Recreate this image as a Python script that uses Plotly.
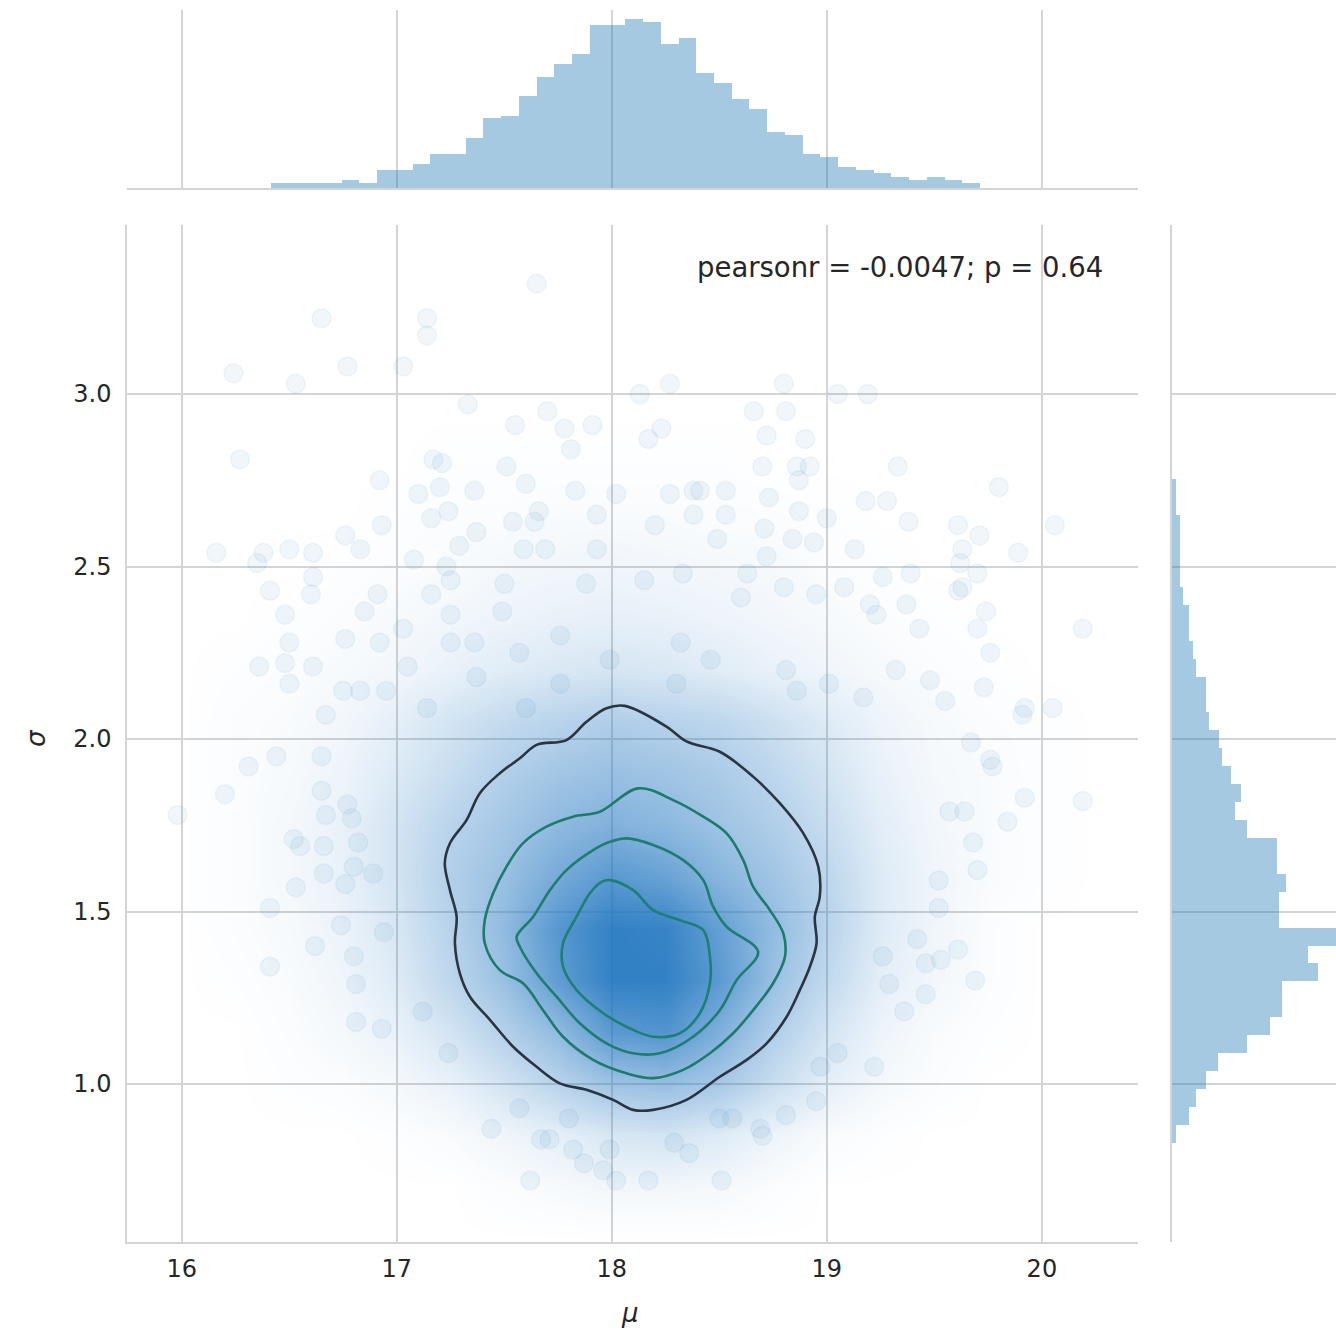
import numpy as np
import plotly.graph_objects as go

# ---------------- data ----------------
# Scatter samples that stand out individually (mu, sigma)
mu_pts = [17.65,16.65,17.14,17.14,16.24,16.53,16.77,17.03,17.33,
          18.27,18.13,18.80,19.05,19.19,18.66,18.23,17.78,17.70,17.55,
          18.92,19.33,17.83,18.02,16.27,16.92,17.17,17.20,18.41,18.53,18.73,
          19.80,20.06,19.61,20.19,19.89,19.38,19.13,18.84,19.00,19.62,19.63,19.74,
          19.92,20.05,20.19,19.73,19.67,19.77,19.64,19.52,19.52,19.69,19.46,19.61,19.53,
          16.16,16.38,16.50,16.41,16.48,16.60,16.36,16.48,16.76,
          16.20,15.98,16.31,16.52,16.65,16.65,16.67,16.79,16.80,16.53,16.62,16.41,16.41,16.81,16.67,16.83,
          17.10,17.25,17.64,17.69,17.03,
          18.51,18.02,18.17,17.96,17.87,17.62,18.29,18.50,17.80,17.67,17.44,18.69,18.81,18.95,18.56,18.97,
          16.44,16.80,16.81,16.93,17.24,17.12,17.71,17.82,17.57,17.99,
          16.66,16.76,16.55,16.66,16.82,16.77,16.89,16.94,16.74,
          19.57,19.84,19.92,19.76,19.70,19.68,19.22,19.36,19.05,18.70,18.36,19.29,19.26,19.42,19.46,
          17.91,17.81,17.21,17.51,17.36,17.60,16.93,17.16,17.24,17.66,17.93,17.54,16.76,16.83,16.61,
          16.35,17.08,17.23,17.59,17.93,17.29,17.37,16.61,16.50,16.50,16.61,16.75,16.92,16.91,16.85,
          17.16,17.25,17.49,17.50,17.88,17.25,17.57,17.05,17.37,16.95,17.14,17.76,17.60,17.99,17.76,17.36,
          18.81,18.17,18.72,18.90,18.70,18.86,18.27,18.38,18.53,18.87,19.18,19.28,19.71,19.63,18.38,
          18.20,18.71,18.87,18.94,18.49,18.72,19.39,19.61,19.70,19.70,19.76,19.08,19.23,19.37,19.43,
          19.32,19.48,19.55,19.91,19.17,19.01,18.81,18.30,18.86,18.46,18.32,18.95,18.80,18.60,18.33,
          18.63,18.15,19.20,19.26]
sigma_pts = [3.32,3.22,3.22,3.17,3.06,3.03,3.08,3.08,2.97,
             3.03,3.00,3.03,3.00,3.00,2.95,2.90,2.90,2.95,2.91,
             2.79,2.79,2.72,2.71,2.81,2.75,2.81,2.73,2.72,2.65,2.70,
             2.73,2.62,2.62,2.32,2.54,2.63,2.55,2.58,2.64,2.51,2.44,2.37,
             2.09,2.09,1.82,2.15,1.99,1.92,1.79,1.51,1.59,1.30,1.26,1.39,1.36,
             2.54,2.54,2.55,2.43,2.36,2.42,2.21,2.22,2.29,
             1.84,1.78,1.92,1.71,1.95,1.85,1.78,1.77,1.63,1.57,1.40,1.34,1.51,1.18,2.07,2.14,
             2.71,2.46,2.63,2.55,2.32,
             0.72,0.72,0.72,0.75,0.77,0.72,0.83,0.90,0.90,0.84,0.87,0.87,0.91,0.95,0.90,1.05,
             1.95,1.37,1.29,1.16,1.09,1.21,0.84,0.81,0.93,0.81,
             1.61,1.58,1.69,1.69,1.70,1.81,1.61,1.44,1.46,
             1.79,1.76,1.83,1.94,1.62,1.70,1.05,1.21,1.09,0.85,0.80,1.29,1.37,1.42,1.35,
             2.91,2.84,2.80,2.79,2.72,2.74,2.62,2.64,2.66,2.66,2.65,2.63,2.59,2.55,2.54,
             2.51,2.52,2.50,2.55,2.55,2.56,2.60,2.47,2.28,2.16,2.21,2.14,2.28,2.42,2.37,
             2.42,2.36,2.37,2.45,2.45,2.28,2.25,2.21,2.18,2.14,2.09,2.16,2.09,2.23,2.30,2.28,
             2.95,2.87,2.88,2.87,2.79,2.79,2.71,2.72,2.72,2.75,2.69,2.69,2.59,2.55,2.65,
             2.62,2.61,2.66,2.57,2.58,2.53,2.48,2.43,2.48,2.32,2.25,2.44,2.36,2.39,2.32,
             2.20,2.17,2.11,2.07,2.12,2.16,2.20,2.16,2.14,2.23,2.28,2.42,2.44,2.41,2.48,
             2.48,2.46,2.39,2.47]

# Apparent density of the overlapping cloud (0 = white, 1 = solid blue)
mu_grid = [16.0, 16.25, 16.5, 16.75, 17.0, 17.25, 17.5, 17.75, 18.0, 18.25, 18.5, 18.75, 19.0, 19.25, 19.5, 19.75, 20.0, 20.25]
sigma_grid = [0.55, 0.70, 0.85, 1.00, 1.15, 1.30, 1.45, 1.60, 1.75, 1.90, 2.05, 2.20, 2.35, 2.50, 2.65, 2.80, 2.95]
cloud_density = [
    [0, 0, 0, 0, 0, 0, 0, 0, 0, 0, 0, 0, 0, 0, 0, 0, 0, 0],
    [0, 0, 0, 0, 0, 0, 0.02, 0.04, 0.06, 0.06, 0.05, 0.02, 0, 0, 0, 0, 0, 0],
    [0, 0, 0, 0, 0.01, 0.03, 0.07, 0.12, 0.18, 0.20, 0.15, 0.08, 0.03, 0.01, 0, 0, 0, 0],
    [0, 0, 0.01, 0.02, 0.05, 0.10, 0.20, 0.32, 0.44, 0.47, 0.40, 0.25, 0.12, 0.05, 0.02, 0, 0, 0],
    [0, 0, 0.02, 0.05, 0.10, 0.20, 0.34, 0.50, 0.74, 0.78, 0.58, 0.36, 0.20, 0.08, 0.03, 0.01, 0, 0],
    [0, 0.01, 0.03, 0.07, 0.15, 0.30, 0.46, 0.72, 0.92, 0.92, 0.74, 0.46, 0.28, 0.12, 0.06, 0.02, 0, 0],
    [0, 0.02, 0.04, 0.09, 0.18, 0.33, 0.50, 0.76, 0.92, 0.90, 0.70, 0.49, 0.32, 0.15, 0.07, 0.02, 0, 0],
    [0, 0.02, 0.05, 0.10, 0.20, 0.35, 0.46, 0.62, 0.75, 0.68, 0.54, 0.43, 0.30, 0.15, 0.07, 0.03, 0.01, 0],
    [0, 0.02, 0.05, 0.10, 0.20, 0.32, 0.41, 0.51, 0.57, 0.52, 0.44, 0.36, 0.25, 0.13, 0.06, 0.03, 0.01, 0],
    [0, 0.02, 0.04, 0.08, 0.16, 0.25, 0.35, 0.42, 0.46, 0.43, 0.38, 0.30, 0.20, 0.10, 0.05, 0.03, 0.01, 0],
    [0, 0.02, 0.03, 0.06, 0.12, 0.20, 0.27, 0.32, 0.36, 0.33, 0.30, 0.23, 0.15, 0.08, 0.04, 0.02, 0.01, 0],
    [0, 0.01, 0.02, 0.04, 0.06, 0.10, 0.14, 0.17, 0.19, 0.17, 0.14, 0.10, 0.07, 0.04, 0.02, 0.01, 0, 0],
    [0, 0, 0.01, 0.02, 0.04, 0.06, 0.08, 0.10, 0.11, 0.10, 0.08, 0.06, 0.04, 0.02, 0.01, 0, 0, 0],
    [0, 0, 0, 0.01, 0.02, 0.03, 0.05, 0.06, 0.07, 0.06, 0.05, 0.04, 0.02, 0.01, 0, 0, 0, 0],
    [0, 0, 0, 0, 0.01, 0.02, 0.02, 0.03, 0.03, 0.03, 0.02, 0.02, 0.01, 0, 0, 0, 0, 0],
    [0, 0, 0, 0, 0, 0.01, 0.01, 0.01, 0.01, 0.01, 0.01, 0, 0, 0, 0, 0, 0, 0],
    [0, 0, 0, 0, 0, 0, 0, 0, 0, 0, 0, 0, 0, 0, 0, 0, 0, 0],
]

# KDE contour rings (mu, sigma)
ring1_mu = [18.060,18.254,18.347,18.502,18.657,18.781,18.890,18.960,18.967,18.944,18.952,18.921,18.874,18.813,
            18.720,18.627,18.502,18.347,18.192,18.099,18.006,17.882,17.758,17.650,17.541,17.433,17.340,17.293,
            17.270,17.278,17.247,17.223,17.247,17.324,17.386,17.479,17.572,17.650,17.789,17.882,17.975]
ring1_sigma = [2.096,2.036,1.993,1.963,1.891,1.814,1.727,1.630,1.543,1.485,1.408,1.340,1.272,1.195,
               1.118,1.070,1.021,0.954,0.925,0.925,0.954,0.983,1.002,1.050,1.108,1.186,1.253,1.321,
               1.408,1.485,1.562,1.640,1.698,1.765,1.843,1.901,1.944,1.983,1.997,2.050,2.089]
ring2_mu = [18.122,18.285,18.425,18.533,18.611,18.657,18.735,18.797,18.805,18.750,18.657,18.564,18.456,18.332,
            18.192,18.068,17.913,17.773,17.680,17.587,17.479,17.409,17.409,17.448,17.510,17.587,17.696,17.820,17.944]
ring2_sigma = [1.857,1.823,1.775,1.727,1.649,1.572,1.504,1.437,1.369,1.292,1.214,1.147,1.089,1.041,
               1.017,1.031,1.070,1.137,1.214,1.292,1.330,1.408,1.475,1.553,1.630,1.698,1.746,1.775,1.789]
ring3_mu = [18.068,18.192,18.332,18.425,18.471,18.533,18.680,18.580,18.502,18.378,18.223,18.099,17.975,17.851,
            17.743,17.650,17.572,17.557,17.634,17.712,17.789,17.913,17.991]
ring3_sigma = [1.712,1.693,1.649,1.591,1.514,1.456,1.383,1.301,1.214,1.137,1.089,1.089,1.118,1.176,
               1.253,1.321,1.398,1.427,1.485,1.562,1.620,1.678,1.702]
ring4_mu = [17.991,18.099,18.192,18.316,18.425,18.456,18.456,18.409,18.316,18.192,18.068,17.960,17.836,17.773,
            17.773,17.836,17.898,17.952]
ring4_sigma = [1.591,1.562,1.504,1.475,1.446,1.369,1.292,1.205,1.147,1.137,1.166,1.205,1.272,1.340,
               1.408,1.485,1.553,1.586]

# Marginal histogram of mu: 40 bins from 16.413 to 19.712 (relative heights)
mu_bin_lo, mu_bin_hi = 16.413, 19.712
mu_counts = [5, 5, 5, 5, 8.3, 5, 18, 18, 24.3, 34.3, 34.3, 50.6, 70, 72.6, 92, 111.3, 124.3, 134.3, 163.3, 163.3,
             169.3, 166.3, 144, 150, 115, 105, 89, 79.3, 56.3, 53.3, 34.3, 31.3, 21.6, 18.3, 15, 11.6, 8.3, 11.6, 8.3, 5]

# Marginal histogram of sigma: 37 bins from 0.8299 to 2.7525 (relative widths, bottom to top)
sigma_bin_lo, sigma_bin_hi = 0.8299, 2.7525
sigma_counts = [4.2, 17.2, 23.5, 33.5, 46.2, 75.2, 97.5, 110.2, 110.2, 145.8, 136.2, 169.5, 106.8, 106.8, 113.5,
                104.5, 104.5, 75, 62.5, 68.8, 59.2, 49.5, 46.5, 36.8, 33.5, 33.5, 23.8, 20.5, 17.2, 17.2, 10.8,
                7.5, 7.5, 7.5, 7.5, 4.2, 4.2]

x_ticks = [16, 17, 18, 19, 20]
y_ticks = [1.0, 1.5, 2.0, 2.5, 3.0]
annotation_text = "pearsonr = -0.0047; p = 0.64"

# ---------------- figure ----------------
W, H = 1336, 1331
BLUE = "31,119,180"
CORE = "33,118,192"
GRID = "#d4d4d4"
TXT = "#262626"
FONT = "DejaVu Sans"

mu_edges = np.linspace(mu_bin_lo, mu_bin_hi, len(mu_counts) + 1)
mu_centers = (mu_edges[:-1] + mu_edges[1:]) / 2
mu_w = mu_edges[1] - mu_edges[0]
sg_edges = np.linspace(sigma_bin_lo, sigma_bin_hi, len(sigma_counts) + 1)
sg_centers = (sg_edges[:-1] + sg_edges[1:]) / 2
sg_w = sg_edges[1] - sg_edges[0]

fig = go.Figure()

fig.add_trace(go.Heatmap(
    x=mu_grid, y=sigma_grid, z=cloud_density, zmin=0, zmax=1, zsmooth="best",
    colorscale=[[0, f"rgba({CORE},0)"], [1, f"rgba({CORE},1)"]],
    showscale=False, hoverinfo="skip", xaxis="x", yaxis="y"))

fig.add_trace(go.Scatter(
    x=mu_pts, y=sigma_pts, mode="markers", xaxis="x", yaxis="y", hoverinfo="skip",
    marker=dict(size=19, color=f"rgba({BLUE},0.065)",
                line=dict(color=f"rgba({BLUE},0.06)", width=1.5))))

for mus, sgs, col in [(ring1_mu, ring1_sigma, "#2a3540"),
                      (ring2_mu, ring2_sigma, "#1e7a6c"),
                      (ring3_mu, ring3_sigma, "#1e7d70"),
                      (ring4_mu, ring4_sigma, "#1f7f74")]:
    fig.add_trace(go.Scatter(
        x=list(mus) + [mus[0]], y=list(sgs) + [sgs[0]], mode="lines",
        line=dict(color=col, width=2.6, shape="spline", smoothing=1.0),
        xaxis="x", yaxis="y", hoverinfo="skip"))

fig.add_trace(go.Bar(
    x=mu_centers, y=mu_counts, width=mu_w, xaxis="x2", yaxis="y2",
    marker=dict(color=f"rgba({BLUE},0.4)", line=dict(width=0)), hoverinfo="skip"))

fig.add_trace(go.Bar(
    y=sg_centers, x=sigma_counts, width=sg_w, orientation="h", xaxis="x3", yaxis="y3",
    marker=dict(color=f"rgba({BLUE},0.4)", line=dict(width=0)), hoverinfo="skip"))

xr = [15.745, 20.447]
yr = [0.542, 3.490]
main_x_dom = [127 / W, 1138 / W]
main_y_dom = [(H - 1242) / H, (H - 225) / H]
top_y_dom = [(H - 188.3) / H, (H - 10) / H]
right_x_dom = [1171.5 / W, 1.0]

tickfont = dict(family=FONT, size=24, color=TXT)

fig.update_layout(
    width=W, height=H, margin=dict(l=0, r=0, t=0, b=0),
    paper_bgcolor="white", plot_bgcolor="white", showlegend=False, bargap=0,
    xaxis=dict(domain=main_x_dom, range=xr, tickvals=x_ticks, ticktext=[str(v) for v in x_ticks],
               showgrid=True, gridcolor=GRID, gridwidth=1.5, zeroline=False,
               showline=True, linecolor=GRID, linewidth=1.5, ticks="", tickfont=tickfont,
               ticklabelstandoff=4, anchor="y"),
    yaxis=dict(domain=main_y_dom, range=yr, tickvals=y_ticks, ticktext=[f"{v:.1f}" for v in y_ticks],
               showgrid=True, gridcolor=GRID, gridwidth=1.5, zeroline=False,
               showline=True, linecolor=GRID, linewidth=1.5, ticks="", tickfont=tickfont,
               ticklabelstandoff=9, anchor="x"),
    xaxis2=dict(domain=main_x_dom, range=xr, tickvals=x_ticks, showticklabels=False,
                showgrid=True, gridcolor=GRID, gridwidth=1.5, zeroline=False,
                showline=True, linecolor=GRID, linewidth=1.5, ticks="", anchor="y2"),
    yaxis2=dict(domain=top_y_dom, range=[0, 178], showgrid=False, showticklabels=False,
                zeroline=False, showline=False, ticks="", anchor="x2"),
    xaxis3=dict(domain=right_x_dom, range=[0, 164.5], showgrid=False, showticklabels=False,
                zeroline=False, showline=False, ticks="", anchor="y3"),
    yaxis3=dict(domain=main_y_dom, range=yr, tickvals=y_ticks, showticklabels=False,
                showgrid=True, gridcolor=GRID, gridwidth=1.5, zeroline=False,
                showline=True, linecolor=GRID, linewidth=1.5, ticks="", anchor="x3"),
    annotations=[
        dict(text=annotation_text, xref="paper", yref="paper", x=1105 / W, y=(H - 267) / H,
             xanchor="right", yanchor="middle", showarrow=False,
             font=dict(family=FONT, size=27.5, color=TXT)),
        dict(text="<i>μ</i>", xref="paper", yref="paper", x=630 / W, y=(H - 1313) / H,
             xanchor="center", yanchor="middle", showarrow=False,
             font=dict(family=FONT, size=26, color=TXT)),
        dict(text="<i>σ</i>", xref="paper", yref="paper", x=36 / W, y=(H - 738) / H,
             xanchor="center", yanchor="middle", showarrow=False, textangle=-90,
             font=dict(family=FONT, size=26, color=TXT)),
    ],
)

fig.write_html("out.html")
